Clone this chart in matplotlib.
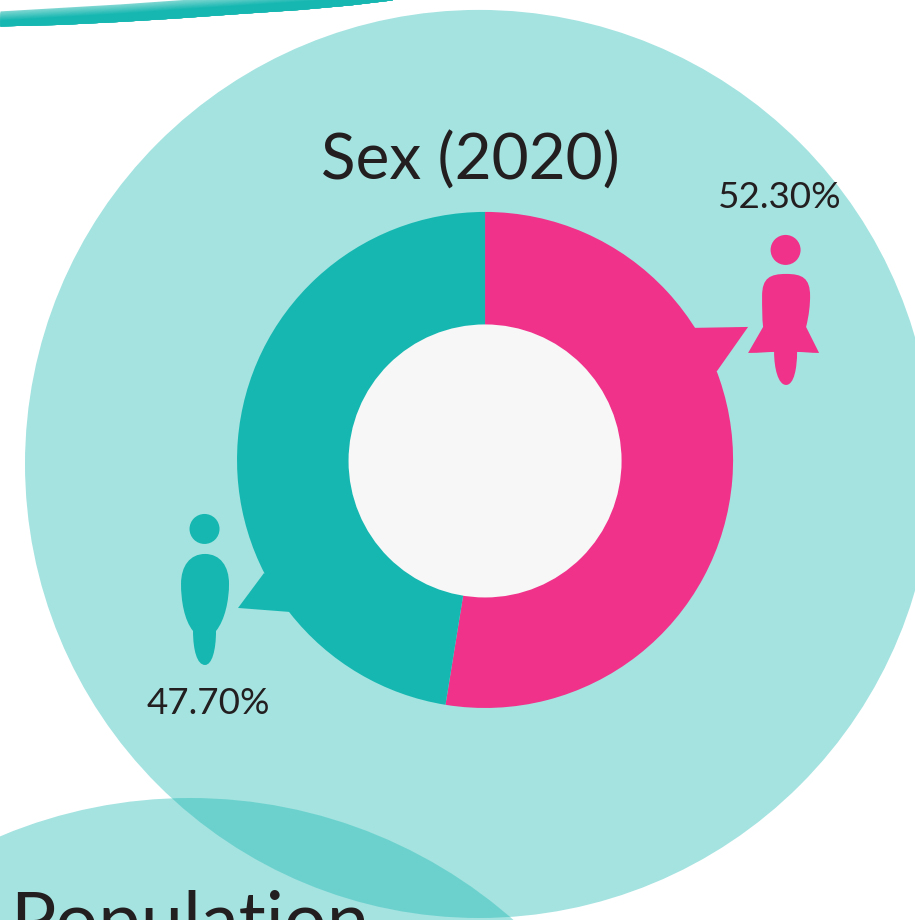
import matplotlib
matplotlib.use("Agg")
import matplotlib.pyplot as plt
import numpy as np
from matplotlib.patches import Circle, PathPatch, Polygon
from matplotlib.path import Path
from matplotlib.colors import to_rgb

# chart data, wedge sizes as drawn in the picture (slightly off the printed labels)
sex_labels = ["Female", "Male"]
sex_values = [52.55, 47.45]
sex_text = ["52.30%", "47.70%"]
title = "Sex (2020)"
next_title = "Population"

PINK = "#F0328B"
TEAL = "#16B7B1"
INK = "#231F20"
W, H = 915, 920

plt.rcParams["font.family"] = ["Lato", "DejaVu Sans"]


def flip(points):
    # the picture was measured in pixels from the top left
    return [(x, H - y) for x, y in points]


def shape(ax, verts, codes, color):
    ax.add_patch(PathPatch(Path(flip(verts), codes), fc=color, ec="none", zorder=5))


M, L, C, Z = Path.MOVETO, Path.LINETO, Path.CURVE4, Path.CLOSEPOLY

fig = plt.figure(figsize=((W + 0.1) / 100, (H + 0.1) / 100), dpi=100, facecolor="white")
ax = fig.add_axes([0, 0, 1, 1])

# pale background circles
ax.add_patch(Circle((479, H - 464), 454, fc=TEAL, ec="none", alpha=0.39, zorder=1))
ax.add_patch(Circle((190, H - 1288), 490, fc=TEAL, ec="none", alpha=0.39, zorder=2))

# swoosh across the top edge, light along its upper side
xs = np.array([0, 60, 120, 177, 240, 300, 350, 392])
top_edge = np.array([11, 7.5, 4, 0, -4, -8, -12, -16])
bottom_edge = np.array([26, 24.5, 21.5, 18, 13.5, 9.5, 5, 0])
light, dark = np.array(to_rgb("#7DD6D1")), np.array(to_rgb(TEAL))
for i in range(12):
    t = i / 11
    ax.fill_between(xs, H - (top_edge + t * 9), H - bottom_edge,
                    color=light + (dark - light) * t, lw=0, zorder=3)

# donut
wedges, _ = ax.pie(sex_values, colors=[PINK, TEAL], startangle=90, counterclock=False,
                   center=(485, H - 460), radius=248)
for w in wedges:
    w.set_zorder(4)
    w.set_linewidth(0)
ax.add_patch(Circle((485, H - 461), 136.5, fc="#F7F7F7", ec="none", zorder=5))

# callout tails
ax.add_patch(Polygon(flip([(690, 328), (748, 327), (717, 371), (700, 372)]), fc=PINK, ec="none", zorder=4))
ax.add_patch(Polygon(flip([(264, 573), (238, 608), (290, 612), (285, 590)]), fc=TEAL, ec="none", zorder=4))

# female icon
ax.add_patch(Circle((785.5, H - 250), 15, fc=PINK, ec="none", zorder=5))
shape(ax,
      [(786, 274), (770, 274), (762, 278), (762, 296), (762, 308), (762, 318), (763, 327),
       (748, 353), (760, 353), (768, 352), (774, 352),
       (774, 368), (778, 385), (786, 385), (794, 385), (797, 368), (797, 352),
       (803, 352), (811, 353), (819, 353), (806, 327),
       (809, 315), (810, 305), (810, 296), (810, 278), (802, 274), (786, 274), (786, 274)],
      [M, C, C, C, C, C, C, L, C, C, C, C, C, C, C, C, C, C, C, C, L, C, C, C, C, C, C, Z],
      PINK)

# male icon
ax.add_patch(Circle((204.5, H - 529), 15, fc=TEAL, ec="none", zorder=5))
shape(ax,
      [(205, 554), (190, 554), (181, 566), (181, 584), (181, 600), (184, 620), (193, 631),
       (193, 650), (197, 665), (205, 665), (212, 665), (216, 650), (216, 631),
       (225, 620), (229, 600), (229, 584), (229, 566), (220, 554), (205, 554), (205, 554)],
      [M, C, C, C, C, C, C, C, C, C, C, C, C, C, C, C, C, C, C, Z],
      TEAL)

# text, the last one runs off the bottom like in the reference
ax.text(470, H - 180, title, ha="center", va="baseline", fontsize=46, color=INK, zorder=6)
ax.text(779.5, H - 208, sex_text[0], ha="center", va="baseline", fontsize=26.5, color=INK, zorder=6)
ax.text(208, H - 714, sex_text[1], ha="center", va="baseline", fontsize=26.5, color=INK, zorder=6)
ax.text(10, H - 946, next_title, ha="left", va="baseline", fontsize=54.5, color=INK, zorder=6)

ax.set_xlim(0, W)
ax.set_ylim(0, H)
ax.set_aspect("equal")
ax.axis("off")

fig.savefig("out.png", dpi=100, facecolor="white")
